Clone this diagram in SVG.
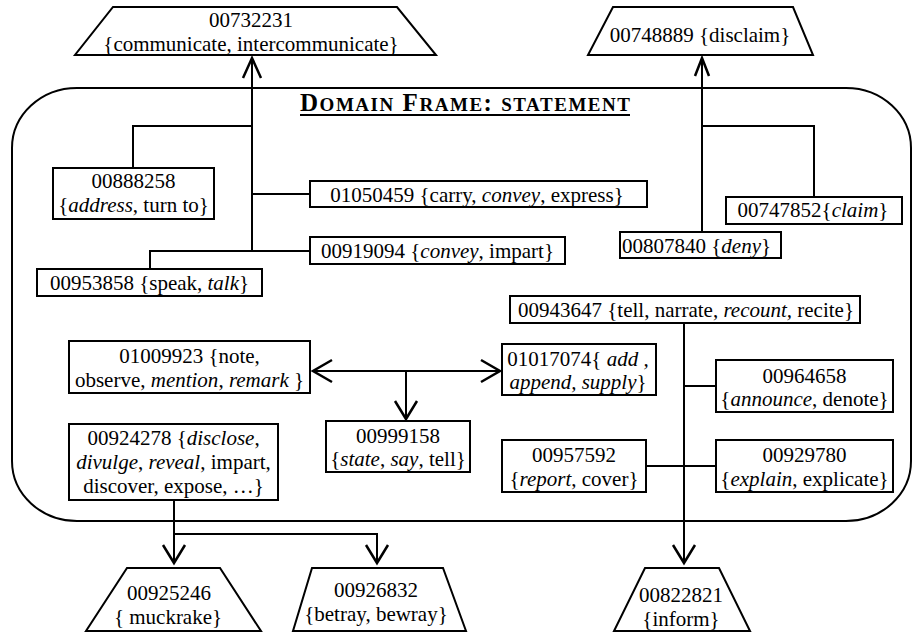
<svg xmlns="http://www.w3.org/2000/svg" width="915" height="634" viewBox="0 0 915 634" font-family="'Liberation Serif','Times New Roman',serif">
<style>
text{font-family:"Liberation Serif","Times New Roman",serif;font-size:21px;fill:#000}
.m{text-anchor:middle}
.i{font-style:italic}
.box{fill:#fff;stroke:#000;stroke-width:2}
.ln{fill:none;stroke:#000;stroke-width:2}
.ah{fill:none;stroke:#000;stroke-width:2.5;stroke-linejoin:miter}
.title{font-weight:bold}
</style>
<rect width="915" height="634" fill="#fff"/>
<g id="frame">
<rect x="12" y="88" width="899" height="433" rx="65" ry="60" fill="none" stroke="#000" stroke-width="2"/>
<text class="title m" x="465" y="111" textLength="330" lengthAdjust="spacing"><tspan font-size="25">D</tspan><tspan font-size="19">OMAIN</tspan><tspan font-size="25"> F</tspan><tspan font-size="19">RAME</tspan><tspan font-size="25">: </tspan><tspan font-size="19">STATEMENT</tspan></text>
<line x1="300" y1="115" x2="630" y2="115" stroke="#000" stroke-width="2"/>
</g>
<g id="connectors">
<path class="ln" d="M252,251 V60"/>
<path class="ah" d="M243,78 L252,58 L261,78"/>
<path class="ln" d="M133,168 V126 H252"/>
<path class="ln" d="M252,194 H310"/>
<path class="ln" d="M252,251 H310"/>
<path class="ln" d="M252,251 H150 V269"/>
<path class="ln" d="M702,232 V60"/>
<path class="ah" d="M695,76 L702,58 L709,76"/>
<path class="ln" d="M702,126 H814 V197"/>
<path class="ln" d="M684,323 V561"/>
<path class="ah" d="M673,545 L684,563 L695,545"/>
<path class="ln" d="M684,386 H716"/>
<path class="ln" d="M646,466 H716"/>
<path class="ln" d="M315,371 H498"/>
<path class="ah" d="M332,360 L313,371 L332,382"/>
<path class="ah" d="M481,360 L500,371 L481,382"/>
<path class="ln" d="M406,371 V417"/>
<path class="ah" d="M395,401 L406,419 L417,401"/>
<path class="ln" d="M174,500 V561"/>
<path class="ln" d="M174,534 H377 V561"/>
<path class="ah" d="M163,545 L174,563 L185,545"/>
<path class="ah" d="M366,545 L377,563 L388,545"/>
</g>
<g id="n00732231">
<polygon class="box" points="113,7 397,7 436,55 75,55"/>
<text class="m" x="251" y="27">00732231</text>
<text class="m" x="251" y="51">{communicate, intercommunicate}</text>
</g>
<g id="n00748889">
<polygon class="box" points="613,7 793,7 813,55 588,55"/>
<text class="m" x="700" y="42">00748889 {disclaim}</text>
</g>
<g id="n00888258">
<rect class="box" x="53" y="168" width="161" height="51"/>
<text class="m" x="133.5" y="188">00888258</text>
<text class="m" x="133.5" y="212">{<tspan class="i">address</tspan>, turn to}</text>
</g>
<g id="n01050459">
<rect class="box" x="310" y="181" width="337" height="26"/>
<text class="m" x="477" y="202">01050459 {carry, <tspan class="i">convey</tspan>, express}</text>
</g>
<g id="n00919094">
<rect class="box" x="310" y="237" width="255" height="27"/>
<text class="m" x="437.5" y="258">00919094 {<tspan class="i">convey</tspan>, impart}</text>
</g>
<g id="n00953858">
<rect class="box" x="37" y="269" width="225" height="27"/>
<text class="m" x="149.5" y="290">00953858 {speak, <tspan class="i">talk</tspan>}</text>
</g>
<g id="n00807840">
<rect class="box" x="620" y="232" width="161" height="26"/>
<text x="622" y="253">00807840 {<tspan class="i">deny</tspan>}</text>
</g>
<g id="n00747852">
<rect class="box" x="726" y="197" width="176" height="27"/>
<text class="m" x="813" y="217">00747852{<tspan class="i">claim</tspan>}</text>
</g>
<g id="n00943647">
<rect class="box" x="510" y="296" width="350" height="27"/>
<text class="m" x="686" y="317">00943647 {tell, narrate, <tspan class="i">recount,</tspan> recite}</text>
</g>
<g id="n01009923">
<rect class="box" x="69" y="341" width="241" height="52"/>
<text class="m" x="189.5" y="363">01009923 {note,</text>
<text class="m" x="189.5" y="387">observe, <tspan class="i">mention</tspan>, <tspan class="i">remark</tspan> }</text>
</g>
<g id="n01017074">
<rect class="box" x="502" y="344" width="154" height="51"/>
<text class="m" x="578" y="366">01017074{ <tspan class="i">add ,</tspan></text>
<text class="m i" x="578" y="389">append, supply<tspan font-style="normal">}</tspan></text>
</g>
<g id="n00999158">
<rect class="box" x="326" y="421" width="144" height="51"/>
<text class="m" x="398" y="443">00999158</text>
<text class="m" x="398" y="466">{<tspan class="i">state</tspan>, <tspan class="i">say</tspan>, tell}</text>
</g>
<g id="n00924278">
<rect class="box" x="69" y="424" width="209" height="76"/>
<text class="m" x="173.5" y="445">00924278 {<tspan class="i">disclose</tspan>,</text>
<text class="m" x="173.5" y="469"><tspan class="i">divulge</tspan>, <tspan class="i">reveal</tspan>, impart,</text>
<text class="m" x="173.5" y="493">discover, expose, …}</text>
</g>
<g id="n00964658">
<rect class="box" x="716" y="360" width="177" height="52"/>
<text class="m" x="804.5" y="383">00964658</text>
<text class="m" x="804.5" y="406">{<tspan class="i">announce</tspan>, denote}</text>
</g>
<g id="n00957592">
<rect class="box" x="502" y="440" width="144" height="52"/>
<text class="m" x="574" y="462">00957592</text>
<text class="m" x="574" y="486">{<tspan class="i">report</tspan>, cover}</text>
</g>
<g id="n00929780">
<rect class="box" x="716" y="440" width="177" height="52"/>
<text class="m" x="804.5" y="462">00929780</text>
<text class="m" x="804.5" y="486">{<tspan class="i">explain</tspan>, explicate}</text>
</g>
<g id="n00925246">
<polygon class="box" points="127,568 220,568 261,631 86,631"/>
<text class="m" x="169" y="600">00925246</text>
<text class="m" x="168" y="624">{ muckrake}</text>
</g>
<g id="n00926832">
<polygon class="box" points="312,568 443,568 466,631 293,631"/>
<text class="m" x="376" y="597">00926832</text>
<text class="m" x="376" y="621">{betray, bewray}</text>
</g>
<g id="n00822821">
<polygon class="box" points="645,568 719,568 750,631 614,631"/>
<text class="m" x="681" y="602">00822821</text>
<text class="m" x="681" y="626">{inform}</text>
</g>
</svg>
